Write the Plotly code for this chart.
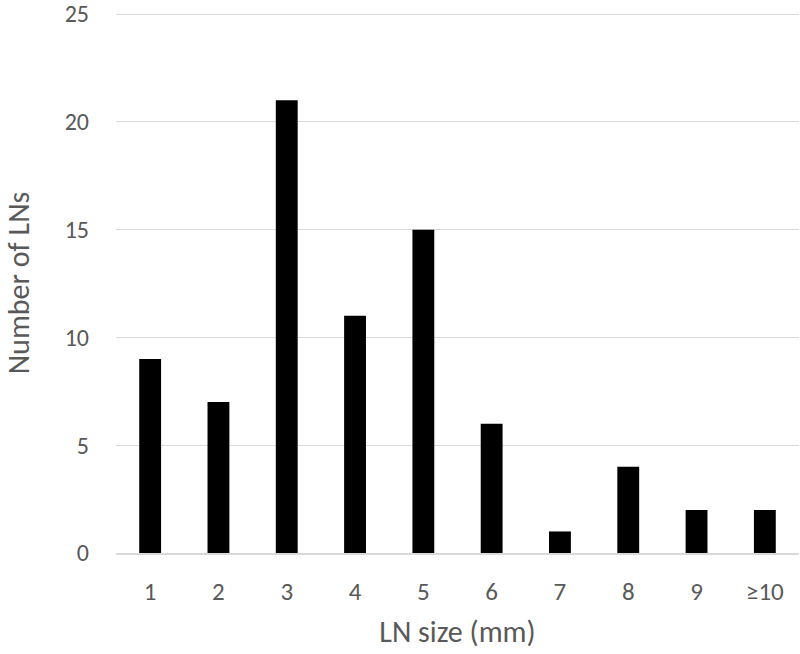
import plotly.graph_objects as go

sizes = ["1", "2", "3", "4", "5", "6", "7", "8", "9", "≥10"]
counts = [9, 7, 21, 11, 15, 6, 1, 4, 2, 2]

fig = go.Figure()
fig.add_trace(go.Bar(x=sizes, y=counts, marker=dict(color="black", line=dict(width=0))))

font_family = "Carlito, Lato, 'Open Sans', sans-serif"

fig.update_layout(
    width=800, height=654,
    margin=dict(l=116, r=1, t=13, b=101),
    plot_bgcolor="white", paper_bgcolor="white",
    bargap=0.68,
    showlegend=False,
    font=dict(family=font_family, color="#595959", size=24),
)
fig.update_xaxes(
    type="category", automargin=False,
    showgrid=False,
    showline=True, linecolor="#d9d9d9", linewidth=1.5,
    ticks="", ticklabelstandoff=15,
    tickfont=dict(size=25, color="#595959"),
    title=dict(text="LN size (mm)", font=dict(size=30, color="#595959"), standoff=15),
)
fig.update_yaxes(
    range=[0, 25.05], tickvals=[0, 5, 10, 15, 20, 25], automargin=False,
    showgrid=True, gridcolor="#d9d9d9", gridwidth=1,
    zeroline=False, showline=False,
    ticks="", ticklabelstandoff=26, ticklabeloverflow="allow",
    tickfont=dict(size=24, color="#595959"),
    title=dict(text="Number of LNs", font=dict(size=30, color="#595959"), standoff=44),
)

fig.write_html("out.html", config={"displayModeBar": False},
               post_script="document.body.style.margin='0';")
